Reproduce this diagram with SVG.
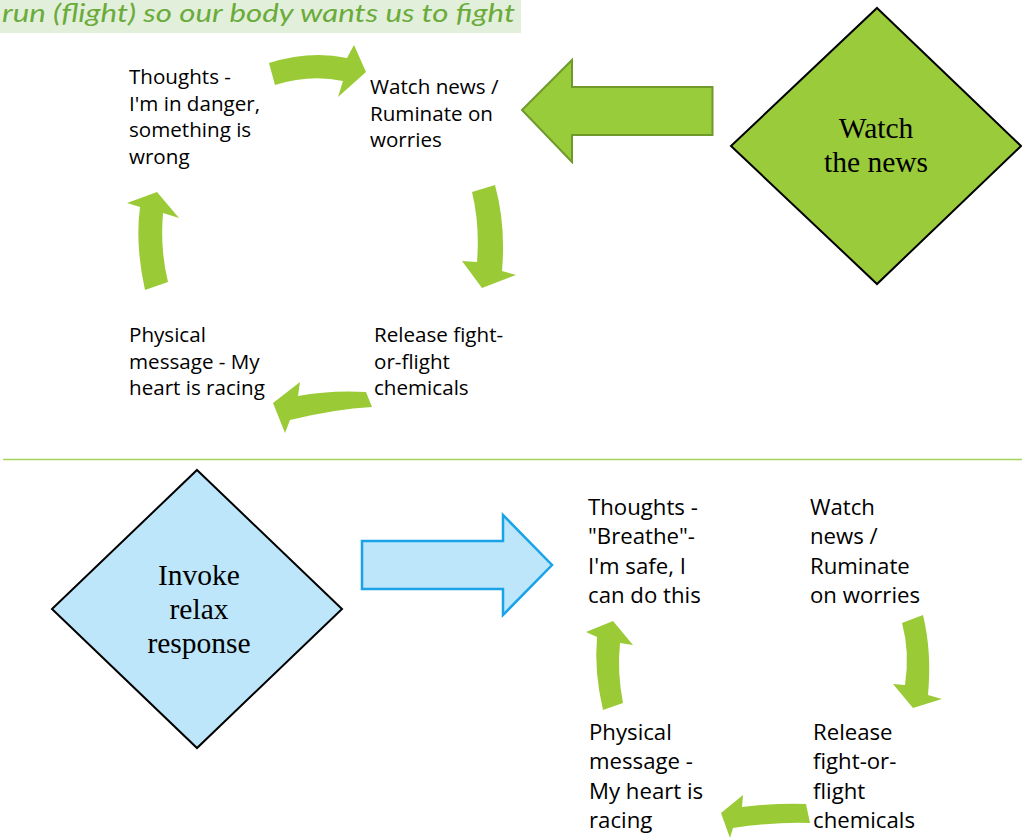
<svg xmlns="http://www.w3.org/2000/svg" width="1022" height="839" viewBox="0 0 1022 839">
<style>
.t{font-family:"Open Sans","Noto Sans",sans-serif;font-size:20.6px;fill:#000}
.b{font-family:"Open Sans","Noto Sans",sans-serif;font-size:22.2px;fill:#000}
.d{font-family:"Liberation Serif",serif;font-size:29.5px;fill:#000;text-anchor:middle}
.ca{fill:#9ACB36;stroke:none}
</style>
<g id="banner">
<rect x="0" y="0" width="521" height="33" fill="#E2EFDA"/>
<text x="2" y="22" font-family="Lato,'Open Sans',sans-serif" font-style="italic" font-size="25" fill="#6AAB3A" textLength="513" lengthAdjust="spacingAndGlyphs">run (flight) so our body wants us to fight</text>
</g>
<g id="separator"><line x1="3" y1="459.5" x2="1022" y2="459.5" stroke="#A5D45A" stroke-width="1.5"/></g>
<g id="node-watch-news-diamond">
<polygon points="877,8 1021,146 877,284 731,146" fill="#9ACB3A" stroke="#000" stroke-width="2"/>
<text class="d" x="876" y="138">Watch</text>
<text class="d" x="876" y="172">the news</text>
</g>
<g id="node-relax-diamond">
<polygon points="197,470 342,609 197,748 52,609" fill="#BDE6FA" stroke="#000" stroke-width="2"/>
<text class="d" x="199" y="585">Invoke</text>
<text class="d" x="199" y="619">relax</text>
<text class="d" x="199" y="653">response</text>
</g>
<g id="node-top-thoughts"><text class="t" x="129" y="84">Thoughts -</text><text class="t" x="129" y="111">I'm in danger,</text><text class="t" x="129" y="137">something is</text><text class="t" x="129" y="164">wrong</text></g>
<g id="node-top-watch"><text class="t" x="370" y="94">Watch news /</text><text class="t" x="370" y="121">Ruminate on</text><text class="t" x="370" y="147">worries</text></g>
<g id="node-top-physical"><text class="t" x="129" y="342">Physical</text><text class="t" x="129" y="369">message - My</text><text class="t" x="129" y="395">heart is racing</text></g>
<g id="node-top-release"><text class="t" x="374" y="342">Release fight-</text><text class="t" x="374" y="369">or-flight</text><text class="t" x="374" y="395">chemicals</text></g>
<g id="node-bot-thoughts"><text class="b" x="588" y="515">Thoughts -</text><text class="b" x="588" y="544">"Breathe"-</text><text class="b" x="588" y="574">I'm safe, I</text><text class="b" x="588" y="603">can do this</text></g>
<g id="node-bot-watch"><text class="b" x="810" y="515">Watch</text><text class="b" x="810" y="544">news /</text><text class="b" x="810" y="574">Ruminate</text><text class="b" x="810" y="603">on worries</text></g>
<g id="node-bot-physical"><text class="b" x="589" y="740">Physical</text><text class="b" x="589" y="769">message -</text><text class="b" x="589" y="799">My heart is</text><text class="b" x="589" y="828">racing</text></g>
<g id="node-bot-release"><text class="b" x="813" y="740">Release</text><text class="b" x="813" y="769">fight-or-</text><text class="b" x="813" y="799">flight</text><text class="b" x="813" y="828">chemicals</text></g>
<g id="connectors">
<path d="M712.5,87 L572,87 L572,60 L522,110 L572,162 L572,135 L712.5,135 Z" fill="#99CC3A" stroke="#6F9A2B" stroke-width="2"/>
<path d="M362,541 L503,541 L503,515 L552,565 L503,615 L503,589 L362,589 Z" fill="#BDE6FB" stroke="#1AA3E8" stroke-width="2.5"/>
<path class="ca" d="M269,63 Q310,50 347,58 L354,45 L366,72 L338,97 L343,81 Q310,74 275,85 Z"/>
<path class="ca" d="M472,192 L495,185 Q506,225 502,271 L516,275 L482,288 L462,261 L477,262 Q480,225 472,192 Z"/>
<path class="ca" d="M366,392 Q330,390 298,396 L300,382 L273,403 L285,433 L290,420 Q335,409 372,407 Z"/>
<path class="ca" d="M145,290 Q135,245 140,207 L127,203 L157,192 L179,218 L163,213 Q160,250 168,282 Z"/>
<path class="ca" d="M603,710 Q594,672 597,637 L586,632 L613,621 L633,645 L620,643 Q617,672 623,703 Z"/>
<path class="ca" d="M902,623 L923,615 Q932,652 928,695 L942,699 L913,708 L893,684 L905,685 Q910,652 902,623 Z"/>
<path class="ca" d="M806,804 Q775,803 742,807 L743,795 L721,813 L730,838 L733,828 Q770,822 810,823 Z"/>
</g>
</svg>
